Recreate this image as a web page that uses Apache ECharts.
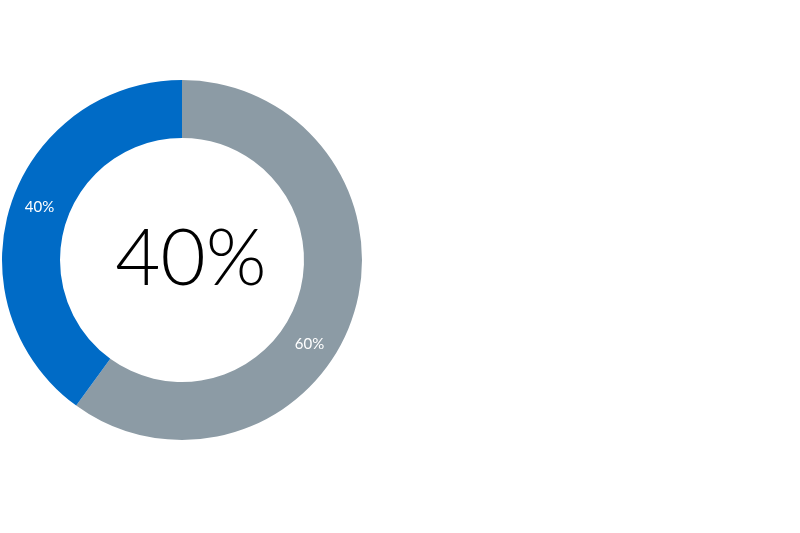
<!DOCTYPE html>
<html>
<head>
<meta charset="utf-8">
<script src="https://cdn.jsdelivr.net/npm/echarts@6/dist/echarts.min.js"></script>
<style>html,body{margin:0;padding:0;background:#fff}#c{width:800px;height:533px}</style>
</head>
<body>
<div id="c"></div>
<script>
const categories = ['Other', 'Share'];
const values = [60, 40];
const colors = ['#8c9ba5', '#006bc6'];
const centerText = '40%';

const chart = echarts.init(document.getElementById('c'), null, {renderer: 'canvas'});
chart.setOption({
  animation: false,
  title: {
    text: centerText,
    left: 186,
    top: 255,
    textAlign: 'center',
    textVerticalAlign: 'middle',
    textStyle: {fontFamily: 'Lato', fontWeight: 300, fontSize: 78, color: '#000'}
  },
  series: [{
    type: 'pie',
    center: [182, 260],
    radius: [122, 180],
    startAngle: 90,
    clockwise: true,
    avoidLabelOverlap: false,
    label: {
      show: true,
      position: 'inside',
      formatter: '{d}%',
      color: '#fff',
      fontFamily: 'Lato',
      fontSize: 15
    },
    labelLine: {show: false},
    itemStyle: {borderWidth: 0},
    emphasis: {disabled: true},
    data: categories.map((c, i) => ({
      name: c,
      value: values[i],
      itemStyle: {color: colors[i]},
      label: i === 0 ? {offset: [-19, 37]} : {offset: [4, -5]}
    }))
  }]
});
</script>
</body>
</html>
